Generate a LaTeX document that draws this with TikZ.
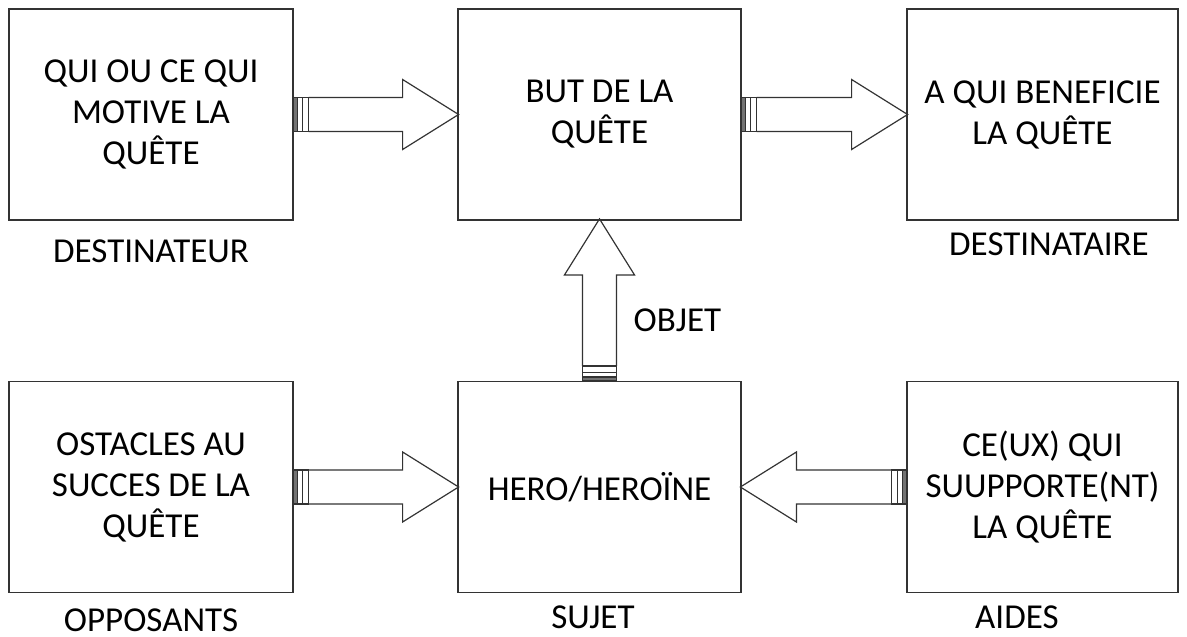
\documentclass[tikz,border=0pt]{standalone}
\usepackage{fontspec}
\setmainfont{Carlito}
\usetikzlibrary{calc}
\tikzset{
  qbox/.style={draw=black!80, line width=1.2pt, minimum width=284pt, minimum height=211pt, inner sep=0pt, align=center, font=\fontsize{35}{41}\selectfont},
  qbox2/.style={qbox, minimum width=283pt},
  qbox3/.style={qbox, minimum width=271pt},
  qlabel/.style={font=\fontsize{35}{41}\selectfont, inner sep=0pt, anchor=base},
  qline/.style={draw=black!80, line width=1.2pt, line join=miter}
}
\newcommand\qarrow[3]{%
  \begin{scope}[shift={(#1)}, rotate=#3]
    \filldraw[qline, fill=black!55] (0,-17) rectangle (4,17);
    \draw[qline] (4,-17) rectangle (15,17);
    \draw[qline, line width=0.9pt] (8.5,-17) -- (8.5,17);
    \draw[qline] (15,-17) -- (#2-56,-17) -- (#2-56,-35) -- (#2,0) -- (#2-56,35) -- (#2-56,17) -- (15,17);
  \end{scope}}
\begin{document}
\begin{tikzpicture}[x=1pt,y=-1pt]
  \useasboundingbox (0,0) rectangle (1187,637);
  \node[qbox] (b1) at (151,114.5) {QUI OU CE QUI\\MOTIVE LA\\QUÊTE};
  \node[qbox2] (b2) at (599.5,114.5) {BUT DE LA\\QUÊTE};
  \node[qbox3] (b3) at (1042.5,114.5) {A QUI BENEFICIE\\LA QUÊTE};
  \node[qbox] (b4) at (151,487) {OSTACLES AU\\SUCCES DE LA\\QUÊTE};
  \node[qbox2] (b5) at (599.5,487) {HERO/HEROÏNE};
  \node[qbox3] (b6) at (1042.5,487) {CE(UX) QUI\\SUUPPORTE(NT)\\LA QUÊTE};
  \node[qlabel] (l1) at (151,262) {DESTINATEUR};
  \node[qlabel] (l3) at (1049,255) {DESTINATAIRE};
  \node[qlabel] (l2) at (677.5,331) {OBJET};
  \node[qlabel] (l4) at (151,631) {OPPOSANTS};
  \node[qlabel] (l5) at (593,628) {SUJET};
  \node[qlabel, anchor=base west] (l6) at (975,628) {AIDES};
  \qarrow{b1.east}{165}{0}
  \qarrow{b2.east}{166}{0}
  \qarrow{b4.east}{165}{0}
  \qarrow{b6.west}{166}{180}
  \qarrow{b5.north}{162}{90}
\end{tikzpicture}
\end{document}
